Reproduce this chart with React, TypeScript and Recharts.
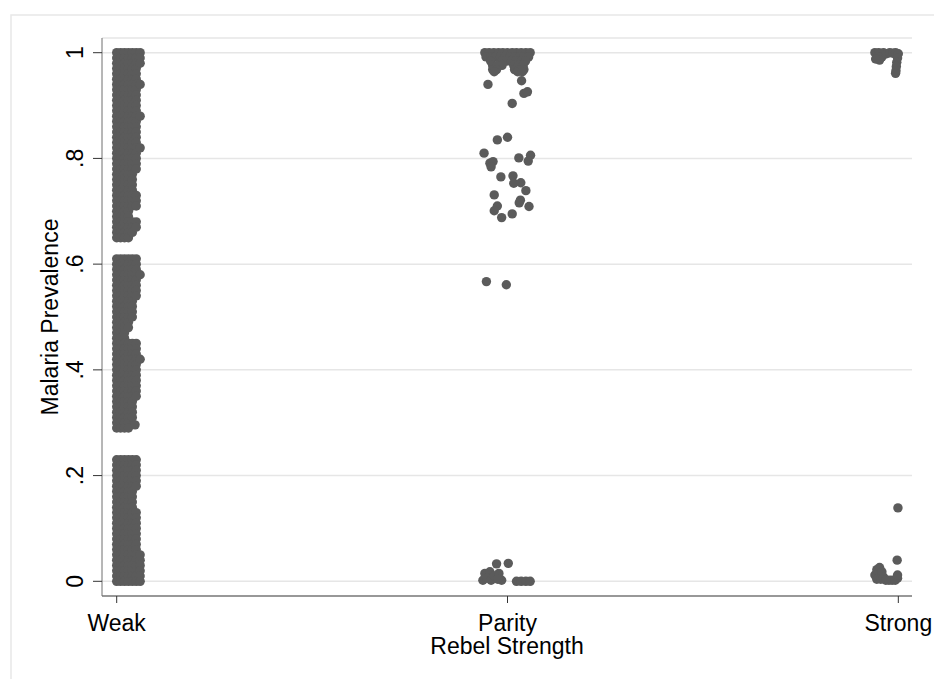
import { ScatterChart, Scatter, XAxis, YAxis, CartesianGrid } from "recharts";

const FONT = '"Liberation Sans", Arial, sans-serif';
const DOT = "#5b5b5b";
const GRID = "#e6e6e6";

const CATEGORIES = ["Weak", "Parity", "Strong"];
const X_TICKS = [1, 2, 3];
const Y_TICKS = [0, 0.2, 0.4, 0.6, 0.8, 1];
const Y_LABELS = ["0", ".2", ".4", ".6", ".8", "1"];

/* Weak: the strip is solid, read as jitter lanes (x) with the values seen in each lane */
const WEAK_X = [1.0, 1.01, 1.02, 1.03, 1.04, 1.05, 1.06];
// left three lanes are filled over the whole four blocks
const weakCore = [
  1, .99, .98, .97, .96, .95, .94, .93, .92, .91, .90, .89, .88, .87, .86, .85, .84, .83,
  .82, .81, .80, .79, .78, .77, .76, .75, .74, .73, .72, .71, .70, .69, .68, .67, .66, .65,
  .61, .60, .59, .58, .57, .56, .55, .54, .53, .52, .51, .50, .49, .48, .47, .46,
  .45, .44, .43, .42, .41, .40, .39, .38, .37, .36, .35, .34, .33, .32, .31, .30, .29,
  .23, .22, .21, .20, .19, .18, .17, .16, .15, .14, .13, .12, .11, .10, .09, .08, .07, .06,
  .05, .04, .03, .02, .01, 0,
];
const weak4 = [
  1, .99, .98, .97, .96, .95, .94, .93, .92, .91, .90, .89, .88, .87, .86, .85, .84, .83,
  .82, .81, .80, .79, .78, .77, .76, .75, .74, .73, .72, .71, .70, .69, .68, .67, .66, .65,
  .61, .60, .59, .58, .57, .56, .55, .54, .53, .52, .51, .50, .49, .48,
  .45, .44, .43, .42, .41, .40, .39, .38, .37, .36, .35, .34, .33, .32, .31, .30, .29,
  .23, .22, .21, .20, .19, .18, .17, .16, .15, .14, .13, .12, .11, .10, .09, .08, .07, .06,
  .05, .04, .03, .02, .01, 0,
];
const weak5 = [
  1, .99, .98, .97, .96, .95, .94, .93, .92, .91, .90, .89, .88, .87, .86, .85, .84, .83,
  .82, .81, .80, .79, .78, .77, .76, .75, .74, .73, .72, .71, .68, .67, .66,
  .61, .60, .59, .58, .57, .56, .55, .54, .53, .52, .51, .50,
  .45, .44, .43, .42, .41, .40, .39, .38, .37, .36, .35, .34, .33, .32, .31,
  .23, .22, .21, .20, .19, .18, .17, .16, .15, .14, .13, .12, .11, .10, .09, .08, .07, .06,
  .05, .04, .03, .02, .01, 0,
];
const weak6 = [
  1, .99, .98, .97, .96, .95, .94, .93, .92, .91, .90, .89, .88, .87, .86, .85, .84, .83,
  .82, .81, .80, .79, .78, .73, .72, .71, .68, .67,
  .61, .60, .59, .58, .57, .56, .55, .54,
  .45, .44, .43, .42, .41, .40, .39, .38, .37, .36, .35,
  .23, .22, .21, .20, .19, .18, .13, .12, .11, .10, .09, .08, .07, .06,
  .05, .04, .03, .02, .01, 0,
];
const weak7 = [1, .99, .98, .94, .88, .82, .58, .42, .05, .04, .03, .02, .01, 0];
const weakExtra: [number, number][] = [[1.047, .296]];

const parityPts: [number, number][] = [
  // top cluster
  [1.942, 1], [1.953, 1], [1.965, 1], [1.977, 1], [1.988, 1], [2.0, 1], [2.012, 1], [2.023, 1], [2.035, 1], [2.047, 1], [2.058, 1],
  [1.945, .992], [1.957, .992], [1.97, .992], [1.982, .992], [1.994, .992], [2.006, .992], [2.018, .992], [2.03, .992], [2.042, .992], [2.054, .992],
  [1.957, .984], [1.986, .984], [1.998, .984], [2.01, .984], [2.022, .984], [2.034, .984], [2.046, .984],
  [1.962, .976], [1.974, .976], [1.986, .976], [2.016, .976], [2.028, .976], [2.04, .976],
  [1.962, .968], [1.972, .968], [2.018, .968], [2.03, .968], [2.042, .968],
  [1.966, .964], [2.026, .964], [2.038, .964],
  [1.95, .94], [2.036, .947], [2.042, .923], [2.051, .926], [2.012, .904],
  // middle
  [1.974, .835], [2.0, .84], [1.94, .81], [1.955, .791], [1.963, .794], [1.958, .784],
  [2.029, .801], [2.059, .806], [2.053, .795], [1.983, .765], [2.014, .767], [2.016, .753],
  [2.034, .754], [2.047, .739], [1.966, .731], [2.033, .721], [2.03, .716], [2.055, .709],
  [1.974, .71], [1.966, .701], [1.985, .688], [2.012, .695],
  [1.946, .567], [1.997, .561],
  // bottom
  [1.972, .033], [2.002, .034], [1.942, .015], [1.955, .018], [1.937, .002], [1.948, .006],
  [1.958, .002], [1.966, .01], [1.978, .015], [1.985, .002], [1.975, .004],
  [2.023, 0], [2.035, 0], [2.047, 0], [2.058, 0],
];

const strongPts: [number, number][] = [
  [2.94, 1], [2.95, 1], [2.962, 1], [2.946, .992], [2.958, .992], [2.952, .986], [2.942, .988],
  [2.97, .998], [2.978, 1], [2.986, .999], [2.993, 1], [3.0, .998],
  [2.998, .99], [2.996, .982], [2.995, .974], [2.994, .966], [2.993, .961],
  [2.999, .139], [2.997, .04],
  [2.94, .012], [2.945, .022], [2.952, .026], [2.958, .018], [2.945, .004], [2.955, .004],
  [2.962, .008], [2.968, .002], [2.976, .002], [2.984, .002], [2.992, .002], [2.998, .006], [2.998, .012],
];

const weakData = [weakCore, weakCore, weakCore, weak4, weak5, weak6, weak7]
  .flatMap((ys, i) => ys.map((y) => ({ x: WEAK_X[i], y })))
  .concat(weakExtra.map(([x, y]) => ({ x, y })));
const parityData = parityPts.map(([x, y]) => ({ x, y }));
const strongData = strongPts.map(([x, y]) => ({ x, y }));

const Dot = (p: any) => <circle cx={p.cx} cy={p.cy} r={4.7} fill={DOT} />;

const YTick = (p: any) => {
  const x = p.x - 8;
  return (
    <text x={x} y={p.y} transform={`rotate(-90, ${x}, ${p.y})`} textAnchor="middle"
      fontFamily={FONT} fontSize={23} fill="#000">
      {Y_LABELS[Y_TICKS.indexOf(p.payload.value)]}
    </text>
  );
};

const XTick = (p: any) => (
  <text x={p.x} y={p.y + 26} textAnchor="middle" fontFamily={FONT} fontSize={23} fill="#000">
    {CATEGORIES[X_TICKS.indexOf(p.payload.value)]}
  </text>
);

export default function App() {
  return (
    <div style={{ position: "absolute", left: 0, top: 0, width: 934, height: 679, background: "#fff", overflow: "hidden" }}>
      <svg width={934} height={679} style={{ position: "absolute", left: 0, top: 0 }}>
        <rect x={11} y={15} width={1000} height={1000} fill="none" stroke="#e8e8e8" strokeWidth={1.5} />
      </svg>
      <div style={{ position: "absolute", left: 0, top: 0 }}>
        <ScatterChart width={934} height={679} margin={{ top: 38, right: 22, left: 22, bottom: 43 }}>
          <CartesianGrid vertical={false} stroke={GRID} strokeWidth={1.5} />
          <XAxis
            type="number" dataKey="x" domain={[0.9624, 3.035]} ticks={X_TICKS} allowDataOverflow
            height={40} tickSize={7} tick={<XTick />} axisLine={{ stroke: "#444" }} tickLine={{ stroke: "#333" }}
          />
          <YAxis
            type="number" dataKey="y" domain={[-0.0278, 1.0278]} ticks={Y_TICKS} allowDataOverflow
            width={80} tickSize={9} tick={<YTick />} axisLine={{ stroke: "#6e6e6e" }} tickLine={{ stroke: "#333" }}
          />
          <Scatter data={weakData} shape={Dot} isAnimationActive={false} />
          <Scatter data={parityData} shape={Dot} isAnimationActive={false} />
          <Scatter data={strongData} shape={Dot} isAnimationActive={false} />
        </ScatterChart>
      </div>
      <svg width={934} height={679} style={{ position: "absolute", left: 0, top: 0, pointerEvents: "none" }}>
        <text x={507} y={654} textAnchor="middle" fontFamily={FONT} fontSize={23} fill="#000">Rebel Strength</text>
        <text x={58} y={317} transform="rotate(-90, 58, 317)" textAnchor="middle" fontFamily={FONT} fontSize={23} fill="#000">
          Malaria Prevalence
        </text>
      </svg>
    </div>
  );
}
